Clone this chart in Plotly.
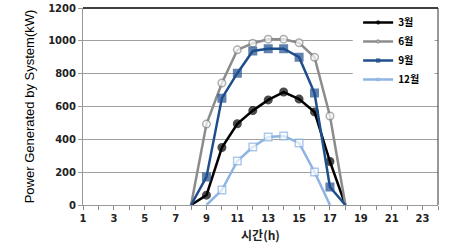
import plotly.graph_objects as go

hours = list(range(1, 25))
N = None
mar = [N]*7 + [0, 60, 350, 495, 575, 640, 688, 645, 567, 265, 0] + [N]*6
jun = [N]*7 + [0, 493, 743, 945, 985, 1010, 1010, 988, 900, 542, 0] + [N]*6
sep = [N]*7 + [0, 171, 651, 803, 938, 952, 952, 900, 682, 110, 0] + [N]*6
dec = [N]*8 + [0, 91, 268, 353, 414, 420, 378, 201, 0] + [N]*7

series = [
    ("3월", mar, "#000000", "circle", "#000000"),
    ("6월", jun, "#8C8C8C", "circle", "#FFFFFF"),
    ("9월", sep, "#1F4E8C", "square", "#1F4E8C"),
    ("12월", dec, "#8DB4E2", "square", "#FFFFFF"),
]

fig = go.Figure()
for name, vals, col, sym, fill in series:
    sizes = [0 if (v == 0) else 7.5 for v in [0 if v is None else v for v in vals]]
    fig.add_trace(go.Scatter(
        x=hours, y=vals, name="<b>" + name + "</b>", mode="lines+markers",
        line=dict(color=col, width=2.5),
        marker=dict(symbol=sym, size=sizes, color=fill,
                    line=dict(color=col, width=1.5)),
        connectgaps=False,
    ))

fig.update_layout(
    width=449, height=250,
    margin=dict(l=83, r=11, t=8, b=45, autoexpand=False),
    paper_bgcolor="white", plot_bgcolor="white",
    showlegend=True,
    legend=dict(x=0.775, y=1.0, xanchor="left", yanchor="top",
                bgcolor="rgba(0,0,0,0)", borderwidth=0,
                font=dict(family="Noto Sans CJK KR", size=10, color="#000"),
                tracegroupgap=0, itemwidth=30),
    xaxis=dict(
        range=[1, 24], tickmode="array", automargin=False,
        tickvals=list(range(1, 24, 2)), ticktext=[str(h) for h in range(1, 24, 2)],
        ticks="outside", ticklen=4, tickcolor="#888",
        minor=dict(ticks="outside", ticklen=4, tickcolor="#888", dtick=1, tick0=1),
        showgrid=False, zeroline=False,
        showline=True, linecolor="#999", linewidth=1,
        tickfont=dict(family="DejaVu Sans", size=10, color="#222", weight="bold"),
        title=dict(text="<b>시간(h)</b>", standoff=8,
                   font=dict(family="Noto Sans CJK KR", size=12, color="#222")),
    ),
    yaxis=dict(
        range=[0, 1200], dtick=200, automargin=False,
        ticks="outside", ticklen=4, tickcolor="#999",
        showgrid=True, gridcolor="#A0A0A0", gridwidth=1,
        zeroline=False, showline=True, linecolor="#999", linewidth=1,
        tickfont=dict(family="DejaVu Sans", size=10, color="#222", weight="bold"),
        title=dict(text="Power Generated by System(kW)", standoff=10,
                   font=dict(family="Liberation Sans Narrow, Liberation Sans", size=13, color="#000")),
    ),
    shapes=[
        dict(type="rect", xref="paper", yref="paper", x0=0.76, x1=0.99, y0=0.6, y1=1,
             fillcolor="white", line=dict(width=0), layer="above"),
        dict(type="line", xref="paper", yref="paper", x0=0, x1=1, y0=1, y1=1,
             line=dict(color="#000", width=1.5), layer="above"),
        dict(type="line", xref="paper", yref="paper", x0=1, x1=1, y0=0, y1=1,
             line=dict(color="#333", width=1), layer="above"),
    ],
)

fig.write_html("out.html")
